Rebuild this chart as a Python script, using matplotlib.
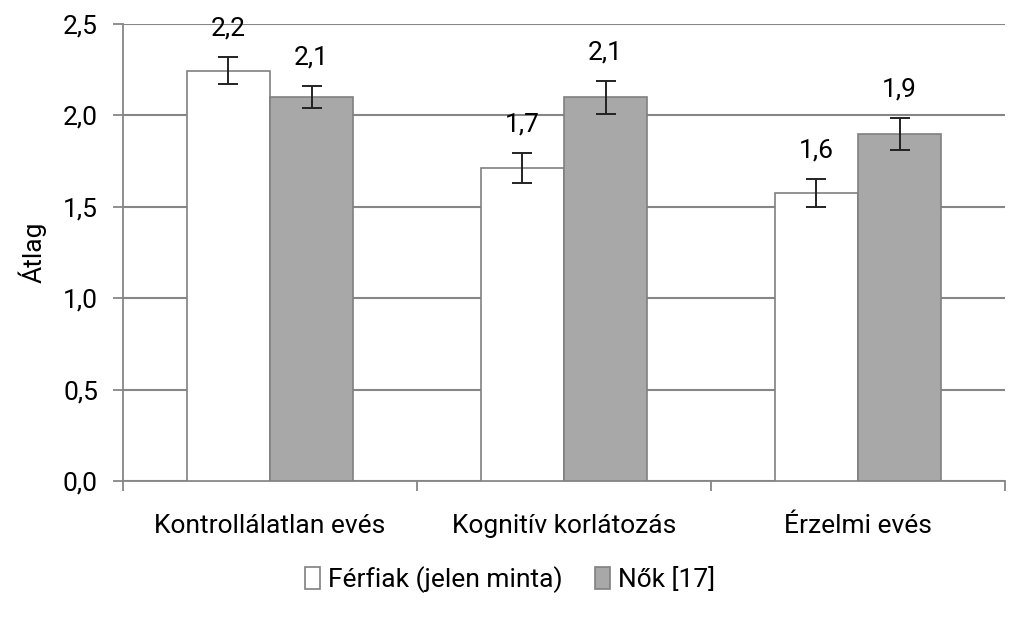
import matplotlib
matplotlib.use('Agg')
import matplotlib.pyplot as plt
import numpy as np

categories = ['Kontrollálatlan evés', 'Kognitív korlátozás', 'Érzelmi evés']
ferfiak = [2.245, 1.712, 1.575]
ferfiak_err = [0.075, 0.08, 0.077]
nok = [2.10, 2.10, 1.898]
nok_err = [0.06, 0.09, 0.09]
ferfiak_labels = ['2,2', '1,7', '1,6']
nok_labels = ['2,1', '2,1', '1,9']
y_ticks = [0.0, 0.5, 1.0, 1.5, 2.0, 2.5]

plt.rcParams['font.family'] = ['Roboto', 'DejaVu Sans']
fs = 19

fig = plt.figure(figsize=(10.23, 6.19), dpi=100)
ax = fig.add_axes([123 / 1023, 1 - 481 / 619, (1005 - 123) / 1023, (481 - 24) / 619])

x = np.arange(len(categories))
w = 0.283
grid_color = '#868686'

ax.bar(x - w / 2, ferfiak, w, color='white', edgecolor='#808080', linewidth=1.2,
       yerr=ferfiak_err, ecolor='#222222', capsize=7, error_kw={'elinewidth': 1.4, 'capthick': 1.4},
       label='Férfiak (jelen minta)', zorder=3)
ax.bar(x + w / 2, nok, w, color='#a8a8a8', edgecolor='#808080', linewidth=1.2,
       yerr=nok_err, ecolor='#222222', capsize=7, error_kw={'elinewidth': 1.4, 'capthick': 1.4},
       label='Nők [17]', zorder=3)

# értékcímkék a hibasávok fölé
for i in range(len(categories)):
    ax.text(x[i] - w / 2, ferfiak[i] + ferfiak_err[i] + 0.09, ferfiak_labels[i],
            ha='center', va='bottom', fontsize=fs)
    ax.text(x[i] + w / 2, nok[i] + nok_err[i] + 0.09, nok_labels[i],
            ha='center', va='bottom', fontsize=fs)

ax.set_ylim(0, 2.5)
ax.set_xlim(-0.5, len(categories) - 0.5)
ax.set_yticks(y_ticks)
ax.set_yticklabels([('%.1f' % t).replace('.', ',') for t in y_ticks], fontsize=fs)
ax.yaxis.grid(True, color=grid_color, linewidth=1.5, zorder=0)
ax.set_axisbelow(True)

ax.set_xticks(x)
ax.set_xticklabels(categories, fontsize=fs)
ax.tick_params(axis='x', length=0, pad=24)
ax.set_xticks(np.arange(len(categories) + 1) - 0.5, minor=True)
ax.tick_params(axis='x', which='minor', length=7, width=1.3, color=grid_color)
ax.tick_params(axis='y', length=7, width=1.3, color=grid_color, pad=11)

for s in ['top', 'right']:
    ax.spines[s].set_visible(False)
ax.spines['left'].set_color(grid_color)
ax.spines['bottom'].set_color(grid_color)
ax.spines['left'].set_linewidth(1.3)
ax.spines['bottom'].set_linewidth(1.3)

ax.set_ylabel('Átlag', fontsize=fs, labelpad=12)

fig.legend(loc='center', bbox_to_anchor=(510 / 1023, 1 - 580 / 619), ncol=2, frameon=False,
           fontsize=fs, handlelength=0.6, handleheight=0.9, handletextpad=0.3, columnspacing=1.2)

plt.savefig('out.png', dpi=100)
